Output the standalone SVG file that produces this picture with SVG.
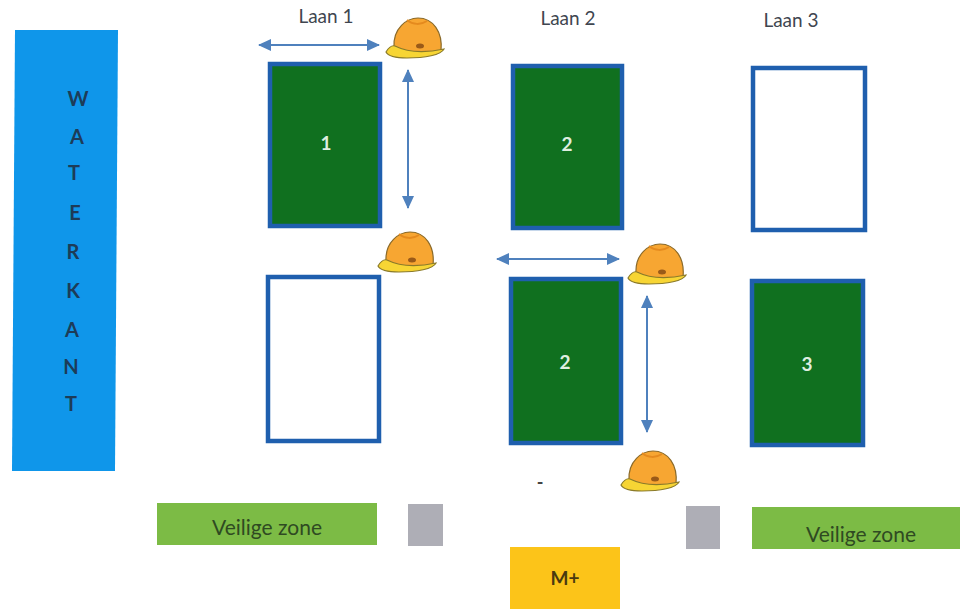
<svg xmlns="http://www.w3.org/2000/svg" width="960" height="610" viewBox="0 0 960 610">
<style>
text{font-family:Lato,"Liberation Sans",sans-serif;text-anchor:middle}
.lane{font-size:19px;fill:#3f4650}
.plot{stroke:#1f5fae;stroke-width:4.5;fill:#fff}
.green{fill:#10701f}
.num{font-size:19px;font-weight:700;fill:#dfeee0}
.wk{font-size:20px;font-weight:700;fill:#1d3c58}
.safe{fill:#7cbb45}
.sl{font-size:21px;fill:#2f4a22}
.grey{fill:#aeaeb6}
.arrow{stroke:#4f81bd;stroke-width:2;fill:none;marker-start:url(#a);marker-end:url(#a)}
</style>
<defs>
<marker id="a" markerUnits="userSpaceOnUse" markerWidth="14" markerHeight="12" refX="12" refY="6" orient="auto-start-reverse"><path d="M0 0L13 6L0 12Z" fill="#4f81bd"/></marker>
<g id="hat">
<path d="M-21 3C-22-16-8-26 3-26C18-26 28-12 26 7C10 10-8 9-21 3Z" fill="#f7a632" stroke="#8a6a2a" stroke-width="1.2"/>
<path d="M-8-24C-2-19 6-19 12-23" fill="none" stroke="#e58a1e" stroke-width="2"/>
<path d="M-29 8C-26 3-23 1-20 2C-8 8 10 9 29 5C26 11 10 14-8 14C-19 14-27 12-29 8Z" fill="#f7d534" stroke="#8a7a2a" stroke-width="1.2"/>
<ellipse cx="5" cy="2" rx="4" ry="2.5" fill="#9a5a18"/>
</g>
</defs>
<rect width="960" height="610" fill="#fff"/>
<g id="waterkant">
<path d="M15 30L118 30L115 471L12 471Z" fill="#0f96ea"/>
<text class="wk" x="78" y="106">W</text><text class="wk" x="77" y="144">A</text><text class="wk" x="74" y="180">T</text><text class="wk" x="75" y="220">E</text><text class="wk" x="73" y="259">R</text><text class="wk" x="73" y="298">K</text><text class="wk" x="72" y="337">A</text><text class="wk" x="71" y="374">N</text><text class="wk" x="71" y="411">T</text>
</g>
<g id="laan-labels">
<text class="lane" x="326" y="23">Laan 1</text>
<text class="lane" x="568" y="25">Laan 2</text>
<text class="lane" x="791" y="27">Laan 3</text>
</g>
<g id="plot-1"><rect class="plot green" x="270" y="64" width="110" height="162"/><text class="num" x="326" y="150">1</text></g>
<g id="plot-2a"><rect class="plot green" x="513" y="66" width="109" height="162"/><text class="num" x="567" y="151">2</text></g>
<g id="plot-empty-1"><rect class="plot" x="753" y="68" width="112" height="162"/></g>
<g id="plot-empty-2"><rect class="plot" x="268" y="277" width="111" height="164"/></g>
<g id="plot-2b"><rect class="plot green" x="511" y="279" width="110" height="164"/><text class="num" x="565" y="369">2</text></g>
<g id="plot-3"><rect class="plot green" x="752" y="281" width="111" height="164"/><text class="num" x="807" y="371">3</text></g>
<g id="connectors">
<line class="arrow" x1="259" y1="45" x2="379" y2="45"/>
<line class="arrow" x1="408" y1="70" x2="408" y2="208"/>
<line class="arrow" x1="497" y1="259" x2="619" y2="259"/>
<line class="arrow" x1="647" y1="296" x2="647" y2="432"/>
</g>
<g id="helmets">
<use href="#hat" x="415" y="44"/>
<use href="#hat" x="407" y="258"/>
<use href="#hat" x="657" y="270"/>
<use href="#hat" x="650" y="477"/>
</g>
<g id="zone-left"><rect class="safe" x="157" y="503" width="220" height="42"/><text class="sl" x="267" y="535">Veilige zone</text></g>
<g id="zone-right"><rect class="safe" x="752" y="507" width="208" height="42"/><text class="sl" x="861" y="542">Veilige zone</text></g>
<g id="grey-1"><rect class="grey" x="408" y="504" width="35" height="42"/></g>
<g id="grey-2"><rect class="grey" x="686" y="506" width="34" height="43"/></g>
<g id="m-plus"><rect x="510" y="547" width="110" height="62" fill="#fcc419"/><text x="565" y="585" font-size="19" font-weight="700" fill="#4a3a10">M+</text></g>
<text id="dash" x="540" y="489" font-size="18" font-weight="700" fill="#444">-</text>
</svg>
